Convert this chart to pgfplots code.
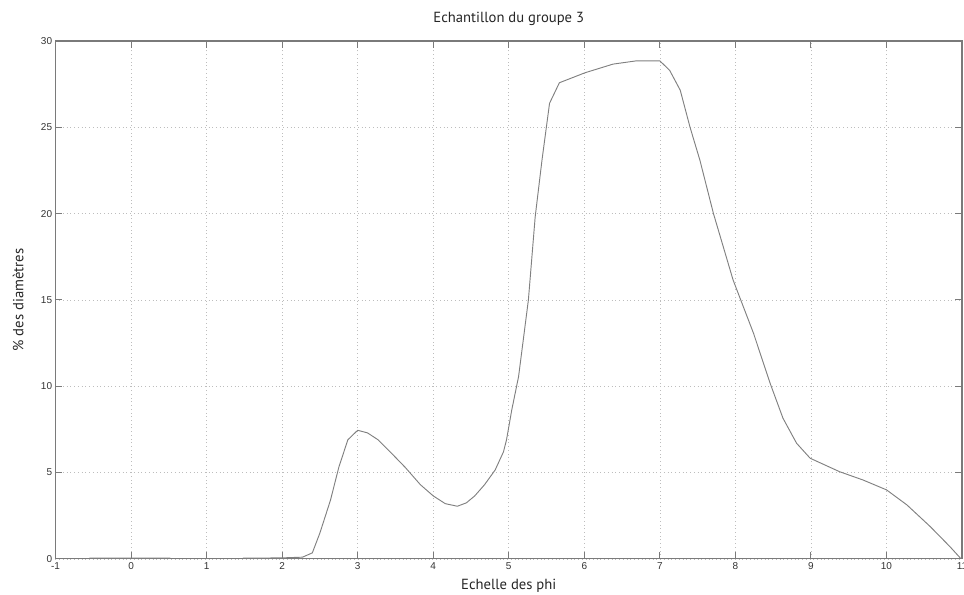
\documentclass[border=0pt]{standalone}
\usepackage{fontspec}
\setmainfont{Liberation Sans}
\setsansfont{Liberation Sans}
\newfontfamily\labelfont{PT Sans}
\usepackage{pgfplots}
\pgfplotsset{compat=1.18}
\usetikzlibrary{calc}
\definecolor{curve}{HTML}{808080}
\definecolor{frame}{HTML}{7A7A7A}
\definecolor{gridc}{HTML}{BDBDBD}
\begin{document}
\begin{tikzpicture}[x=0.75pt,y=0.75pt]
\begin{axis}[
  name=ax,
  scale only axis,
  width=680pt, height=388.5pt,
  xmin=-1, xmax=11, ymin=0, ymax=30,
  xtick={-1,0,...,11}, ytick={0,5,...,30},
  grid=major,
  major grid style={gridc, line width=0.5pt, dash pattern=on 0.6pt off 2.2pt},
  axis line style={frame, line width=0.8pt},
  tick style={frame, line width=0.8pt},
  major tick length=5pt,
  tick align=inside,
  xtick pos=both, ytick pos=both,
  ticklabel style={font=\fontsize{7.5}{8}\selectfont, text=black!80},
  xticklabel style={yshift=1pt},
  yticklabel style={xshift=1pt},
  /pgf/number format/assume math mode=true,
  every axis title shift=0pt,
  title={Echantillon du groupe 3},
  title style={font=\labelfont\fontsize{11}{13}\selectfont, text=black!85,
    at={(axis description cs:0.5,1.0425)}, anchor=center},
  xlabel={Echelle des phi},
  ylabel={\% des diamètres},
  label style={font=\labelfont\fontsize{11}{13}\selectfont, text=black!85},
  xlabel style={at={(axis description cs:0.5,-0.052)}, anchor=center},
  ylabel style={at={(axis description cs:-0.0412,0.5)}, anchor=center},
  unbounded coords=jump,
  clip=false,
]
\addplot[curve, line width=0.7pt, line join=round] coordinates {
  (-0.55,0.04) (0,0.04) (0.52,0.04) (0.53,nan)
  (1.48,0.04) (2.0,0.06) (2.27,0.1)
  (2.40,0.35) (2.50,1.5) (2.64,3.4) (2.75,5.3) (2.87,6.9) (3.0,7.45)
  (3.13,7.3) (3.27,6.9) (3.43,6.2) (3.63,5.3) (3.83,4.3) (4.0,3.65)
  (4.16,3.2) (4.32,3.05) (4.44,3.25) (4.55,3.65) (4.68,4.3) (4.82,5.15)
  (4.93,6.2) (4.97,6.89) (5.04,8.63) (5.13,10.56) (5.26,15.0) (5.35,19.82)
  (5.44,23.1) (5.54,26.39) (5.67,27.58) (6.01,28.16)
  (6.38,28.66) (6.69,28.85) (7.0,28.85) (7.13,28.3) (7.27,27.15)
  (7.40,25.0) (7.53,23.1) (7.71,20.0) (7.97,16.15) (8.24,13.07) (8.46,10.17)
  (8.63,8.15) (8.81,6.7) (8.99,5.83) (9.38,5.05) (9.69,4.57) (10.0,4.0)
  (10.27,3.13) (10.58,1.87) (10.84,0.71) (10.98,0.04)
};
\end{axis}
\pgfresetboundingbox
\path[use as bounding box] ($(ax.south west)+(-55.5,-36)$) rectangle ($(ax.north east)+(2,41)$);
\end{tikzpicture}
\end{document}
